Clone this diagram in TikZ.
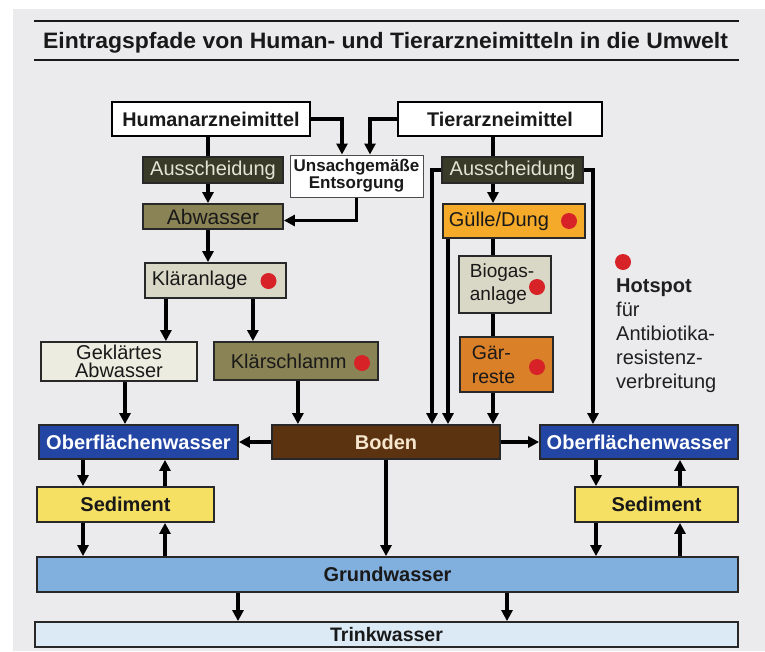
\documentclass[tikz,border=0pt]{standalone}
\usepackage{fontspec}
\usepackage{graphicx}
\setmainfont{Liberation Sans}
\usetikzlibrary{arrows.meta}
\definecolor{bg}{RGB}{235,235,238}
\definecolor{frame}{RGB}{40,40,40}
\definecolor{ausc}{RGB}{58,58,40}
\definecolor{ausctext}{RGB}{228,228,214}
\definecolor{olive}{RGB}{138,131,86}
\definecolor{beige}{RGB}{217,216,198}
\definecolor{gekl}{RGB}{236,236,224}
\definecolor{guel}{RGB}{245,170,42}
\definecolor{gaer}{RGB}{218,128,40}
\definecolor{boden}{RGB}{92,51,16}
\definecolor{bodentext}{RGB}{245,230,205}
\definecolor{ofblue}{RGB}{35,70,165}
\definecolor{sed}{RGB}{246,224,100}
\definecolor{grund}{RGB}{130,176,222}
\definecolor{trink}{RGB}{220,234,246}
\definecolor{hotred}{RGB}{215,35,40}
\newcommand\fs[2]{\fontsize{#1}{#2}\selectfont}
\begin{document}
\begin{tikzpicture}[x=1pt,y=-1pt,
  box/.style={draw=frame, line width=1.8pt, inner sep=0pt, align=center, text=black!90},
  arr/.style={line width=3.2pt, -{Triangle[length=11pt,width=11pt]}},
  ln/.style={line width=3.2pt},
  hotdot/.style={circle, fill=hotred, inner sep=0pt, minimum size=16pt},
  rule/.style={line width=2pt, draw=black!90}]
\useasboundingbox (0,0) rectangle (765,651);
\fill[white] (0,0) rectangle (765,651);
\fill[bg] (13,9) rectangle (765,651);

% title
\draw[rule] (34,21) -- (739,21);
\draw[rule] (34,60) -- (739,60);
\node[anchor=base, inner sep=0pt, font=\fs{22.3}{24}\bfseries, text=black!90] (title) at (385.5,48)
  {\scalebox{1.03}[1]{Eintragspfade von Human- und Tierarzneimitteln in die Umwelt}};

% top row
\node[box, fill=white, draw=black, line width=2pt, minimum width=198pt, minimum height=34pt,
  font=\fs{19.8}{20}\bfseries] (hum) at (211,119) {Humanarzneimittel};
\node[box, fill=white, draw=black, line width=2pt, minimum width=204pt, minimum height=34pt,
  font=\fs{19.8}{20}\bfseries] (tier) at (500,119) {Tierarzneimittel};
\node[box, fill=white, draw=black!70, line width=1pt, minimum width=133pt, minimum height=42pt,
  font=\fs{17}{17}\bfseries] (uns) at (356.5,176) {Unsachgemäße\\Entsorgung};

% human branch
\node[box, fill=ausc, text=ausctext, minimum width=140pt, minimum height=26pt,
  font=\fs{20}{22}] (ausL) at (213,170) {Ausscheidung};
\node[box, fill=olive, minimum width=140pt, minimum height=25pt,
  font=\fs{21}{22}] (abw) at (213,216.5) {Abwasser};
\node[box, fill=beige, anchor=west, minimum width=141pt, minimum height=35pt,
  inner xsep=7pt, text width=127pt, align=left, font=\fs{20}{22}] (klae) at (144,280.5) {Kläranlage};
\node[box, fill=gekl, minimum width=156pt, minimum height=39pt,
  font=\fs{20}{18.5}] (gekl) at (119,361.5) {Geklärtes\\Abwasser};
\node[box, fill=olive, anchor=west, minimum width=164pt, minimum height=38pt,
  inner xsep=17pt, text width=130pt, align=left, font=\fs{20}{22}] (schl) at (213,361) {Klärschlamm};

% animal branch
\node[box, fill=ausc, text=ausctext, minimum width=141pt, minimum height=26pt,
  font=\fs{20}{22}] (ausR) at (512.5,170) {Ausscheidung};
\node[box, fill=guel, anchor=west, minimum width=142pt, minimum height=34pt,
  inner xsep=6pt, text width=130pt, align=left, font=\fs{20}{22}] (guel) at (442,221) {Gülle/Dung};
\node[box, fill=beige, anchor=west, minimum width=92pt, minimum height=57pt,
  inner xsep=11pt, text width=70pt, align=left, font=\fs{19}{23}] (bio) at (458,284.5) {Biogas-\\anlage};
\node[box, fill=gaer, anchor=west, minimum width=93pt, minimum height=55pt,
  inner xsep=12pt, text width=69pt, align=left, font=\fs{19.5}{24}] (gaer) at (459,364.5) {Gär-\\reste};

% environment
\node[box, fill=boden, text=bodentext, minimum width=228pt, minimum height=34pt,
  font=\fs{20}{20}\bfseries] (boden) at (386,442) {Boden};
\node[box, fill=ofblue, text=white, minimum width=199pt, minimum height=34pt,
  font=\fs{20}{20}\bfseries] (ofL) at (138.5,442) {Oberflächenwasser};
\node[box, fill=ofblue, text=white, minimum width=198pt, minimum height=34pt,
  font=\fs{20}{20}\bfseries] (ofR) at (639,442) {Oberflächenwasser};
\node[box, fill=sed, minimum width=177pt, minimum height=35pt,
  font=\fs{20}{20}\bfseries] (sedL) at (125.5,504.5) {Sediment};
\node[box, fill=sed, minimum width=163pt, minimum height=35pt,
  font=\fs{20}{20}\bfseries] (sedR) at (656.5,504.5) {Sediment};
\node[box, fill=grund, minimum width=701pt, minimum height=35pt,
  font=\fs{20}{20}\bfseries] (grund) at (387.5,574.5) {Grundwasser};
\node[box, fill=trink, minimum width=703pt, minimum height=25pt,
  font=\fs{19.5}{20}\bfseries] (trink) at (386.5,634.5) {Trinkwasser};

% hotspot dots
\node[hotdot] (d1) at (268.5,281) {};
\node[hotdot] (d2) at (362,363) {};
\node[hotdot] (d3) at (569,221) {};
\node[hotdot] (d4) at (537,287) {};
\node[hotdot] (d5) at (537,367) {};
\node[hotdot] (d6) at (623,262) {};
\node[anchor=north west, inner sep=0pt, align=left, font=\fs{20}{24}, text=black!88] (leg) at (616,279)
  {\textbf{Hotspot}\\für\\Antibiotika-\\resistenz-\\verbreitung};

% helper coordinates
\coordinate (c1) at ([xshift=-5pt]ausL.north);
\coordinate (u1) at ([xshift=-14.5pt]uns.north);
\coordinate (u2) at ([xshift=13.5pt]uns.north);
\coordinate (k1) at ([xshift=-49.5pt]klae.south);
\coordinate (k2) at ([xshift=37.5pt]klae.south);
\coordinate (g1) at ([xshift=6pt]gekl.south);
\coordinate (s1) at ([xshift=2pt]schl.south);
\coordinate (t1) at ([xshift=-19.5pt]ausR.north);
\coordinate (b1) at ([xshift=46pt]boden.north);
\coordinate (b2) at ([xshift=62pt]boden.north);
\coordinate (o1) at ([xshift=-46pt]ofR.north);
\coordinate (l1) at ([xshift=-55.5pt]ofL.south);
\coordinate (l2) at ([xshift=26.5pt]ofL.south);
\coordinate (r1) at ([xshift=-43pt]ofR.south);
\coordinate (r2) at ([xshift=41pt]ofR.south);
\coordinate (w1) at ([xshift=-149.5pt]grund.south);
\coordinate (w2) at ([xshift=119.5pt]grund.south);

% human connectors
\draw[ln] (c1 |- hum.south) -- (c1);
\draw[arr] (c1 |- ausL.south) -- (c1 |- abw.north);
\draw[arr] (hum.east) -| (u1);
\draw[arr] (tier.west) -| (u2);
\draw[arr] (uns.south) |- ([yshift=-4pt]abw.east);
\draw[arr] (c1 |- abw.south) -- (c1 |- klae.north);
\draw[arr] (k1) -- (k1 |- gekl.north);
\draw[arr] (k2) -- (k2 |- schl.north);
\draw[arr] (g1) -- (g1 |- ofL.north);
\draw[arr] (s1) -- (s1 |- boden.north);

% animal connectors
\draw[ln] (t1 |- tier.south) -- (t1);
\draw[arr] (t1 |- ausR.south) -- (t1 |- guel.north);
\draw[ln] (t1 |- guel.south) -- (t1 |- bio.north);
\draw[ln] (t1 |- bio.south) -- (t1 |- gaer.north);
\draw[arr] (t1 |- gaer.south) -- (t1 |- boden.north);
\draw[arr] (ausR.west) -| (b1);
\draw[arr] (b2 |- guel.south) -- (b2);
\draw[arr] (ausR.east) -| (o1);

% environment connectors
\draw[arr] (boden.west) -- (ofL.east);
\draw[arr] (boden.east) -- (ofR.west);
\draw[arr] (boden.south) -- (boden.south |- grund.north);
\draw[arr] (l1) -- (l1 |- sedL.north);
\draw[arr] (l2 |- sedL.north) -- (l2);
\draw[arr] (l1 |- sedL.south) -- (l1 |- grund.north);
\draw[arr] (l2 |- grund.north) -- (l2 |- sedL.south);
\draw[arr] (r1) -- (r1 |- sedR.north);
\draw[arr] (r2 |- sedR.north) -- (r2);
\draw[arr] (r1 |- sedR.south) -- (r1 |- grund.north);
\draw[arr] (r2 |- grund.north) -- (r2 |- sedR.south);
\draw[arr] (w1) -- (w1 |- trink.north);
\draw[arr] (w2) -- (w2 |- trink.north);
\end{tikzpicture}
\end{document}
